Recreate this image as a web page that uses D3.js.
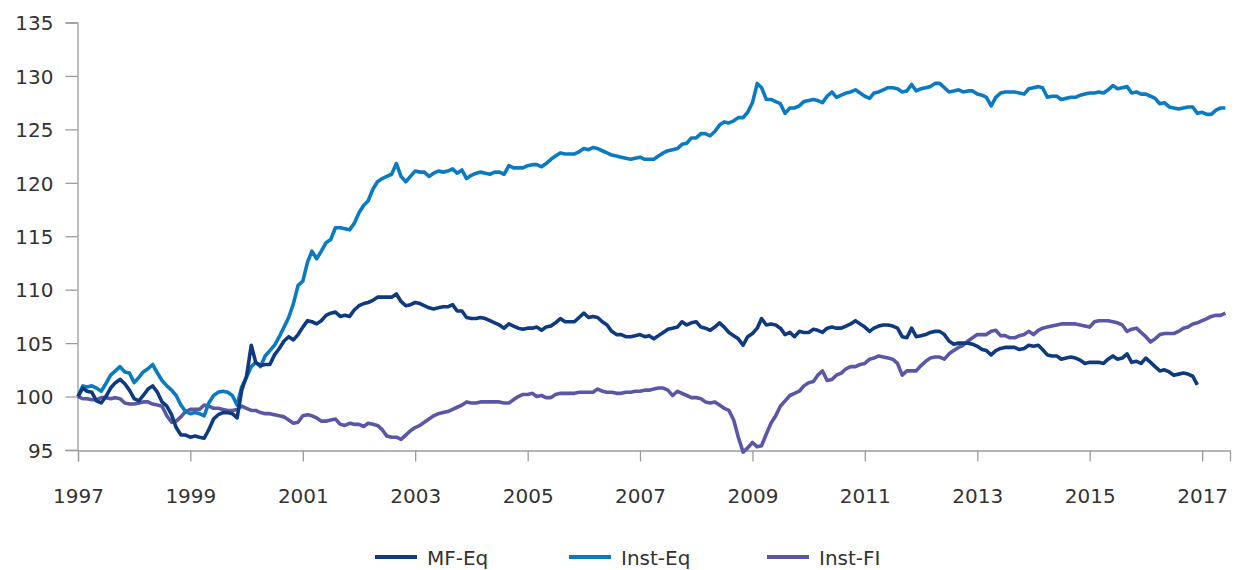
<!DOCTYPE html>
<html>
<head>
<meta charset="utf-8">
<script src="https://cdn.jsdelivr.net/npm/d3@7"></script>
<style>
  body { margin: 0; background: #fff; }
  svg { display: block; }
  text { font-family: "DejaVu Sans", sans-serif; fill: #333; }
</style>
</head>
<body>
<svg id="chart" width="1239" height="570"></svg>
<script>
// monthly index values, starting Jan 1997
const startYear = 1997;

const mfEq = [
  100, 100.8, 100.5, 100.4, 99.6, 99.4, 100, 100.8, 101.3, 101.6, 101.2, 100.6,
  99.8, 99.6, 100.1, 100.7, 101, 100.4, 99.5, 99.1, 98.3, 97.1, 96.4, 96.4,
  96.2, 96.3, 96.2, 96.1, 96.9, 97.9, 98.3, 98.5, 98.5, 98.4, 98.0, 100.6,
  101.9, 104.8, 103.2, 102.9, 103, 103, 103.9, 104.5, 105.2, 105.6, 105.3, 105.8,
  106.5, 107.1, 107, 106.8, 107.1, 107.6, 107.8, 107.9, 107.5, 107.6, 107.5, 108.1,
  108.5, 108.7, 108.8, 109.0, 109.3, 109.3, 109.3, 109.3, 109.6, 108.9, 108.5, 108.6,
  108.8, 108.7, 108.5, 108.3, 108.2, 108.3, 108.4, 108.4, 108.6, 108, 108, 107.4,
  107.3, 107.3, 107.4, 107.3, 107.1, 106.9, 106.7, 106.4, 106.8, 106.6, 106.4, 106.3,
  106.4, 106.4, 106.5, 106.2, 106.5, 106.6, 106.9, 107.3, 107, 107, 107, 107.4,
  107.8, 107.4, 107.5, 107.4, 107, 106.7, 106.1, 105.8, 105.8, 105.6, 105.6, 105.7,
  105.8, 105.6, 105.7, 105.4, 105.7, 106, 106.3, 106.4, 106.5, 107, 106.7, 106.9,
  107, 106.5, 106.4, 106.2, 106.5, 106.9, 106.5, 106, 105.7, 105.4, 104.8, 105.6,
  105.9, 106.4, 107.3, 106.7, 106.8, 106.7, 106.4, 105.8, 106, 105.6, 106.1, 106,
  106, 106.3, 106.2, 106, 106.4, 106.5, 106.4, 106.4, 106.6, 106.8, 107.1, 106.8,
  106.5, 106.1, 106.4, 106.6, 106.7, 106.7, 106.6, 106.4, 105.6, 105.5, 106.4, 105.6,
  105.7, 105.8, 106, 106.1, 106.1, 105.8, 105.2, 104.9, 105, 105, 105, 104.9,
  104.7, 104.4, 104.3, 103.9, 104.3, 104.5, 104.6, 104.6, 104.6, 104.4, 104.5, 104.8,
  104.7, 104.8, 104.4, 103.9, 103.8, 103.8, 103.5, 103.6, 103.7, 103.6, 103.4, 103.1,
  103.2, 103.2, 103.2, 103.1, 103.5, 103.8, 103.5, 103.6, 104, 103.2, 103.3, 103.1,
  103.6, 103.2, 102.8, 102.4, 102.5, 102.3, 102, 102.1, 102.2, 102.1, 101.9, 101.1
];

const instEq = [
  100, 101, 100.9, 101, 100.8, 100.5, 101.2, 102, 102.4, 102.8, 102.3, 102.2,
  101.3, 101.8, 102.3, 102.6, 103, 102.2, 101.5, 101, 100.6, 100.1, 99.2, 98.6,
  98.4, 98.5, 98.4, 98.2, 99.4, 100.1, 100.4, 100.5, 100.4, 100.1, 99.2, 100.9,
  101.8, 102.8, 103.2, 102.8, 103.8, 104.3, 104.8, 105.6, 106.5, 107.4, 108.7, 110.4,
  110.8, 112.6, 113.6, 112.9, 113.6, 114.4, 114.7, 115.8, 115.8, 115.7, 115.6, 116.2,
  117.2, 117.9, 118.3, 119.4, 120.1, 120.4, 120.6, 120.8, 121.8, 120.6, 120.1, 120.6,
  121.1, 121.0, 121, 120.6, 120.9, 121.1, 121, 121.1, 121.3, 120.9, 121.2, 120.4,
  120.7, 120.9, 121, 120.9, 120.8, 121, 121, 120.8, 121.6, 121.4, 121.4, 121.4,
  121.6, 121.7, 121.7, 121.5, 121.8, 122.2, 122.5, 122.8, 122.7, 122.7, 122.7, 122.9,
  123.2, 123.1, 123.3, 123.2, 123, 122.8, 122.6, 122.5, 122.4, 122.3, 122.2, 122.3,
  122.4, 122.2, 122.2, 122.2, 122.5, 122.8, 123, 123.1, 123.2, 123.6, 123.7, 124.2,
  124.2, 124.6, 124.6, 124.4, 124.8, 125.4, 125.7, 125.6, 125.8, 126.1, 126.1, 126.6,
  127.5, 129.3, 128.9, 127.8, 127.8, 127.6, 127.4, 126.5, 127, 127, 127.2, 127.6,
  127.7, 127.8, 127.7, 127.5, 128.1, 128.5, 128, 128.2, 128.4, 128.5, 128.7, 128.4,
  128.1, 127.9, 128.4, 128.5, 128.7, 128.9, 128.9, 128.8, 128.5, 128.6, 129.2, 128.6,
  128.8, 128.9, 129, 129.3, 129.3, 128.9, 128.5, 128.6, 128.7, 128.5, 128.6, 128.6,
  128.3, 128.2, 128, 127.2, 128, 128.4, 128.5, 128.5, 128.5, 128.4, 128.3, 128.8,
  128.9, 129, 128.9, 128, 128.1, 128.1, 127.8, 127.9, 128, 128, 128.2, 128.3,
  128.4, 128.4, 128.5, 128.4, 128.7, 129.1, 128.8, 128.9, 129, 128.4, 128.5, 128.3,
  128.3, 128.1, 127.9, 127.4, 127.5, 127.1, 127, 126.9, 127, 127.1, 127.1, 126.5,
  126.6, 126.4, 126.4, 126.8, 127, 127
];

const instFI = [
  100, 99.8, 99.8, 99.7, 99.7, 99.9, 99.9, 99.8, 99.9, 99.8, 99.4, 99.3,
  99.3, 99.4, 99.5, 99.5, 99.3, 99.2, 99.1, 98.2, 97.6, 97.7, 98.1, 98.6,
  98.8, 98.8, 98.8, 99.2, 99.1, 98.9, 98.9, 98.8, 98.7, 98.7, 98.8, 99.1,
  98.9, 98.7, 98.7, 98.5, 98.4, 98.4, 98.3, 98.2, 98.1, 97.8, 97.5, 97.6,
  98.2, 98.3, 98.2, 98, 97.7, 97.7, 97.8, 97.9, 97.4, 97.3, 97.5, 97.4,
  97.4, 97.2, 97.5, 97.4, 97.3, 96.9, 96.3, 96.2, 96.2, 96.0, 96.4, 96.8,
  97.1, 97.3, 97.6, 97.9, 98.2, 98.4, 98.5, 98.6, 98.8, 99, 99.2, 99.5,
  99.4, 99.4, 99.5, 99.5, 99.5, 99.5, 99.5, 99.4, 99.4, 99.7, 100, 100.2,
  100.2, 100.3, 100, 100.1, 99.9, 99.9, 100.2, 100.3, 100.3, 100.3, 100.3, 100.4,
  100.4, 100.4, 100.4, 100.7, 100.5, 100.4, 100.4, 100.3, 100.3, 100.4, 100.4, 100.5,
  100.5, 100.6, 100.6, 100.7, 100.8, 100.8, 100.6, 100.1, 100.5, 100.3, 100.1, 99.9,
  99.9, 99.8, 99.5, 99.4, 99.5, 99.2, 98.9, 98.7, 97.8, 96.2, 94.8, 95.2,
  95.7, 95.3, 95.4, 96.5, 97.5, 98.2, 99.1, 99.6, 100.1, 100.3, 100.5, 101,
  101.3, 101.4, 102, 102.4, 101.5, 101.6, 102, 102.2, 102.6, 102.8, 102.8, 103,
  103.1, 103.5, 103.6, 103.8, 103.7, 103.6, 103.5, 103.1, 102.0, 102.4, 102.4, 102.4,
  102.9, 103.3, 103.6, 103.7, 103.7, 103.5, 104, 104.3, 104.6, 104.8, 105.2, 105.5,
  105.8, 105.8, 105.8, 106.1, 106.2, 105.7, 105.7, 105.5, 105.5, 105.7, 105.8, 106.1,
  105.8, 106.2, 106.4, 106.5, 106.6, 106.7, 106.8, 106.8, 106.8, 106.8, 106.7, 106.6,
  106.5, 107, 107.1, 107.1, 107.1, 107, 106.9, 106.7, 106.1, 106.3, 106.4, 106,
  105.6, 105.1, 105.4, 105.8, 105.9, 105.9, 105.9, 106.1, 106.4, 106.5, 106.8, 106.9,
  107.1, 107.3, 107.5, 107.6, 107.6, 107.8
];

const seriesNames = ["MF-Eq", "Inst-Eq", "Inst-FI"];
const seriesColors = ["#0f3a80", "#0a7bc1", "#5b57a7"];
const yTicks = [95, 100, 105, 110, 115, 120, 125, 130, 135];
const xTickYears = [1997, 1999, 2001, 2003, 2005, 2007, 2009, 2011, 2013, 2015, 2017];

const svg = d3.select("#chart");

const x = d3.scaleTime()
    .domain([new Date(1997, 0, 1), new Date(2017, 6, 1)])
    .range([78, 1230]);

const y = d3.scaleLinear()
    .domain([95, 135])
    .range([450, 22.5]);

// axes
const yAxis = svg.append("g")
    .attr("transform", "translate(77.5,0)")
    .call(d3.axisLeft(y).tickValues(yTicks).tickSize(12).tickPadding(12));

const xAxis = svg.append("g")
    .attr("transform", "translate(0,450.5)")
    .call(d3.axisBottom(x)
        .tickValues(xTickYears.map(function(yr) { return new Date(yr, 0, 1); }))
        .tickFormat(d3.timeFormat("%Y"))
        .tickSize(11)
        .tickPadding(27));

svg.selectAll(".domain, .tick line")
    .attr("stroke", "#9c9c9c")
    .attr("stroke-width", 1.3);

svg.selectAll(".tick text")
    .attr("fill", "#333")
    .style("font-family", "'DejaVu Sans', sans-serif")
    .style("font-size", "20px");

yAxis.selectAll(".tick text").attr("dy", "0.36em");

// lines
function toPoints(values) {
    return values.map(function(v, i) {
        return {date: new Date(startYear, i, 1), value: v};
    });
}

const line = d3.line()
    .x(function(d) { return x(d.date); })
    .y(function(d) { return y(d.value); });

const allSeries = [mfEq, instEq, instFI];
const drawOrder = [2, 1, 0];

drawOrder.forEach(function(k) {
    svg.append("path")
        .datum(toPoints(allSeries[k]))
        .attr("fill", "none")
        .attr("stroke", seriesColors[k])
        .attr("stroke-width", 3.6)
        .attr("stroke-linejoin", "round")
        .attr("d", line);
});

// legend
const legendX = [375, 569, 767];
const legend = svg.append("g");

seriesNames.forEach(function(name, k) {
    legend.append("line")
        .attr("x1", legendX[k])
        .attr("x2", legendX[k] + 42)
        .attr("y1", 557)
        .attr("y2", 557)
        .attr("stroke", seriesColors[k])
        .attr("stroke-width", 4);
    legend.append("text")
        .attr("x", legendX[k] + 52)
        .attr("y", 564.5)
        .style("font-size", "20px")
        .text(name);
});
</script>
</body>
</html>
